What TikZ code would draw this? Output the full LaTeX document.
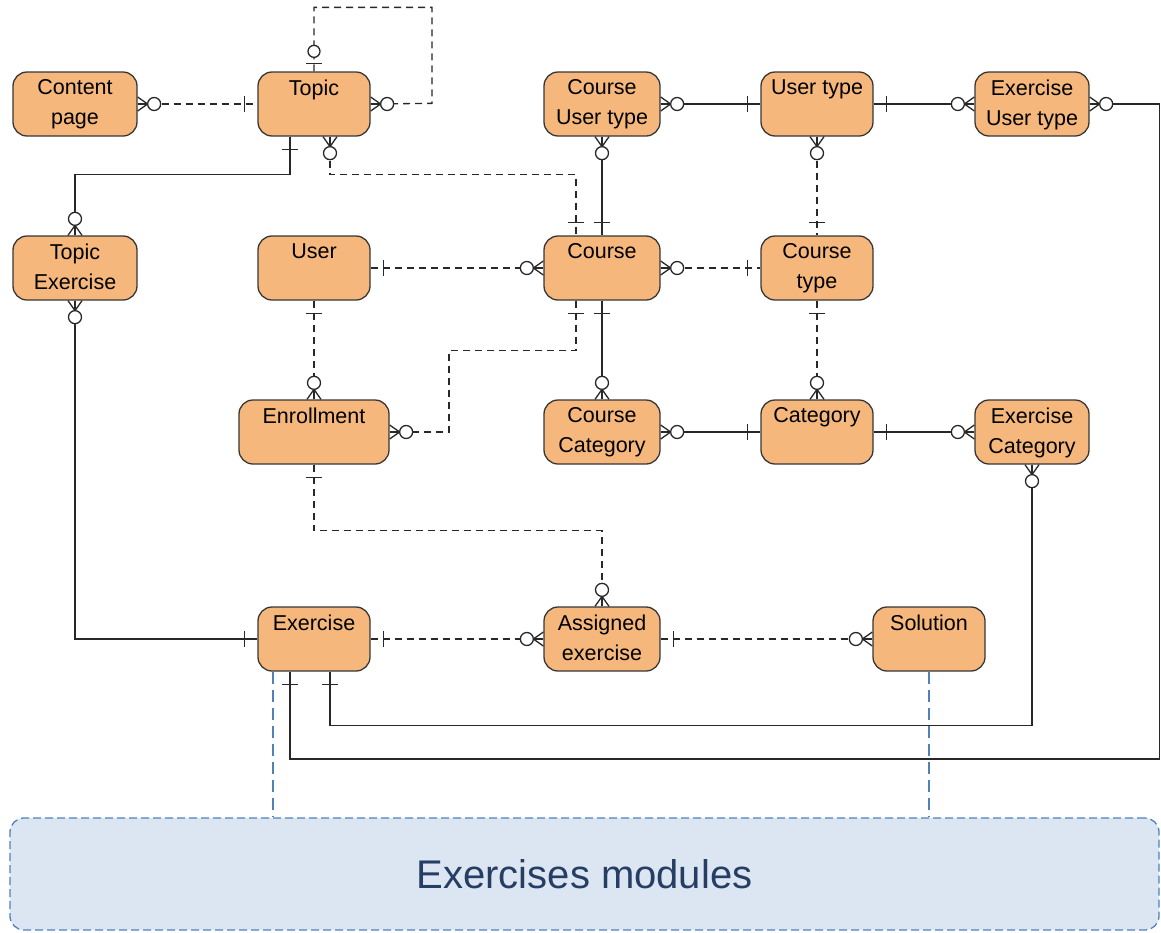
\documentclass[tikz,border=0pt]{standalone}
\usepackage{fontspec}
\newfontfamily\arialf{Liberation Sans}
\usetikzlibrary{calc}
\definecolor{entfill}{RGB}{245,183,123}
\definecolor{entdraw}{RGB}{55,55,55}
\definecolor{lc}{RGB}{40,40,40}
\definecolor{modfill}{RGB}{220,230,242}
\definecolor{moddraw}{RGB}{79,129,189}
\definecolor{modtext}{RGB}{38,62,100}
\tikzset{
  ent/.style={draw=entdraw, line width=1.3pt, fill=entfill, rounded corners=14pt,
    minimum height=64pt, minimum width=112pt, inner sep=0pt},
  lbl/.style={anchor=north, yshift=-8pt, inner sep=0pt, align=center,
    font=\arialf\fontsize{21.5}{30}\selectfont, text=black},
  rel/.style={line width=1.3pt, draw=lc},
  opt/.style={rel, dash pattern=on 7pt off 5pt},
  mk/.style={line width=1.3pt, draw=lc, solid},
  blueline/.style={line width=1.3pt, draw=moddraw, dash pattern=on 12pt off 6pt},
  mod/.style={draw=moddraw, line width=1.3pt, fill=modfill, rounded corners=14pt,
    dash pattern=on 8pt off 4pt, minimum width=1149pt, minimum height=112pt,
    font=\arialf\fontsize{40}{48}\selectfont, text=modtext},
  zmany/.pic={\draw[mk] (0,-7)--(10,0)--(0,7); \draw[mk] (0,0)--(10,0);
    \draw[mk,fill=white] (16.5,0) circle (6.5pt);},
  onebar/.pic={\draw[mk] (13,-8)--(13,8);},
  zone/.pic={\draw[mk] (8,-8)--(8,8); \draw[mk,fill=white] (20,0) circle (6pt);}
}
\newcommand\ZMark[2]{\pic[rotate=#2] at (#1) {zmany};}
\newcommand\OMark[2]{\pic[rotate=#2] at (#1) {onebar};}
\newcommand\ZOMark[2]{\pic[rotate=#2] at (#1) {zone};}
\begin{document}
\begin{tikzpicture}[x=1pt,y=-1pt]
\useasboundingbox (0,0) rectangle (1161,932);
% entities
\node[ent, minimum width=124pt, label={[lbl]north:{Content\\page}}] (CP) at (75,104) {};
\node[ent, label={[lbl]north:{Topic}}] (Topic) at (314,104) {};
\node[ent, minimum width=116pt, label={[lbl]north:{Course\\User type}}] (CUT) at (602,104) {};
\node[ent, label={[lbl]north:{User type}}] (UT) at (817,104) {};
\node[ent, minimum width=114pt, label={[lbl]north:{Exercise\\User type}}] (EUT) at (1032,104) {};
\node[ent, minimum width=124pt, label={[lbl]north:{Topic\\Exercise}}] (TE) at (75,268) {};
\node[ent, label={[lbl]north:{User}}] (User) at (314,268) {};
\node[ent, minimum width=116pt, label={[lbl]north:{Course}}] (Course) at (602,268) {};
\node[ent, label={[lbl]north:{Course\\type}}] (CT) at (817,268) {};
\node[ent, minimum width=150pt, label={[lbl]north:{Enrollment}}] (Enr) at (314,432) {};
\node[ent, minimum width=116pt, label={[lbl]north:{Course\\Category}}] (CC) at (602,432) {};
\node[ent, label={[lbl]north:{Category}}] (Cat) at (817,432) {};
\node[ent, minimum width=114pt, label={[lbl]north:{Exercise\\Category}}] (EC) at (1032,432) {};
\node[ent, label={[lbl]north:{Exercise}}] (Ex) at (314,639) {};
\node[ent, minimum width=116pt, label={[lbl]north:{Assigned\\exercise}}] (AE) at (602,639) {};
\node[ent, label={[lbl]north:{Solution}}] (Sol) at (929,639) {};
\node[mod] (Mod) at (584.5,874) {Exercises modules};
% connectors
\draw[opt] (CP.east) -- (Topic.west);
\draw[opt] (Topic.north) -- ++(0,-64) -- ++(118,0) -- ++(0,96) -- (Topic.east);
\draw[rel] ([xshift=-24pt]Topic.south) -- ++(0,38) -| (TE.north);
\draw[opt] ([xshift=16pt]Topic.south) -- ++(0,38) -| ([xshift=-26pt]Course.north);
\draw[rel] (CUT.south) -- (Course.north);
\draw[rel] (CUT.east) -- (UT.west);
\draw[rel] (UT.east) -- (EUT.west);
\draw[rel] (EUT.east) -- ++(70,0) -- ++(0,655) -| ([xshift=-24pt]Ex.south);
\draw[opt] (UT.south) -- (CT.north);
\draw[opt] (User.east) -- (Course.west);
\draw[opt] (Course.east) -- (CT.west);
\draw[opt] (User.south) -- (Enr.north);
\draw[opt] ([xshift=-26pt]Course.south) -- ++(0,50) -- ++(-127,0) |- (Enr.east);
\draw[rel] (Course.south) -- (CC.north);
\draw[opt] (CT.south) -- (Cat.north);
\draw[rel] (CC.east) -- (Cat.west);
\draw[rel] (Cat.east) -- (EC.west);
\draw[rel] (EC.south) -- ++(0,261) -| ([xshift=16pt]Ex.south);
\draw[opt] (Enr.south) -- ++(0,66) -| (AE.north);
\draw[rel] (TE.south) |- (Ex.west);
\draw[opt] (Ex.east) -- (AE.west);
\draw[opt] (AE.east) -- (Sol.west);
\draw[blueline] ([xshift=-41pt]Ex.south) -- ([xshift=-41pt]Ex.south |- Mod.north);
\draw[blueline] (Sol.south) -- (Sol.south |- Mod.north);
% end marks
\ZMark{CP.east}{0} \OMark{Topic.west}{180}
\ZOMark{Topic.north}{90} \ZMark{Topic.east}{0}
\OMark{$(Topic.south)+(-24,0)$}{-90} \ZMark{TE.north}{90}
\ZMark{$(Topic.south)+(16,0)$}{-90} \OMark{$(Course.north)+(-26,0)$}{90}
\ZMark{CUT.south}{-90} \OMark{Course.north}{90}
\ZMark{CUT.east}{0} \OMark{UT.west}{180}
\OMark{UT.east}{0} \ZMark{EUT.west}{180}
\ZMark{EUT.east}{0} \OMark{$(Ex.south)+(-24,0)$}{-90}
\ZMark{UT.south}{-90} \OMark{CT.north}{90}
\OMark{User.east}{0} \ZMark{Course.west}{180}
\ZMark{Course.east}{0} \OMark{CT.west}{180}
\OMark{User.south}{-90} \ZMark{Enr.north}{90}
\OMark{$(Course.south)+(-26,0)$}{-90} \ZMark{Enr.east}{0}
\OMark{Course.south}{-90} \ZMark{CC.north}{90}
\OMark{CT.south}{-90} \ZMark{Cat.north}{90}
\ZMark{CC.east}{0} \OMark{Cat.west}{180}
\OMark{Cat.east}{0} \ZMark{EC.west}{180}
\ZMark{EC.south}{-90} \OMark{$(Ex.south)+(16,0)$}{-90}
\OMark{Enr.south}{-90} \ZMark{AE.north}{90}
\ZMark{TE.south}{-90} \OMark{Ex.west}{180}
\OMark{Ex.east}{0} \ZMark{AE.west}{180}
\OMark{AE.east}{0} \ZMark{Sol.west}{180}
\end{tikzpicture}
\end{document}
